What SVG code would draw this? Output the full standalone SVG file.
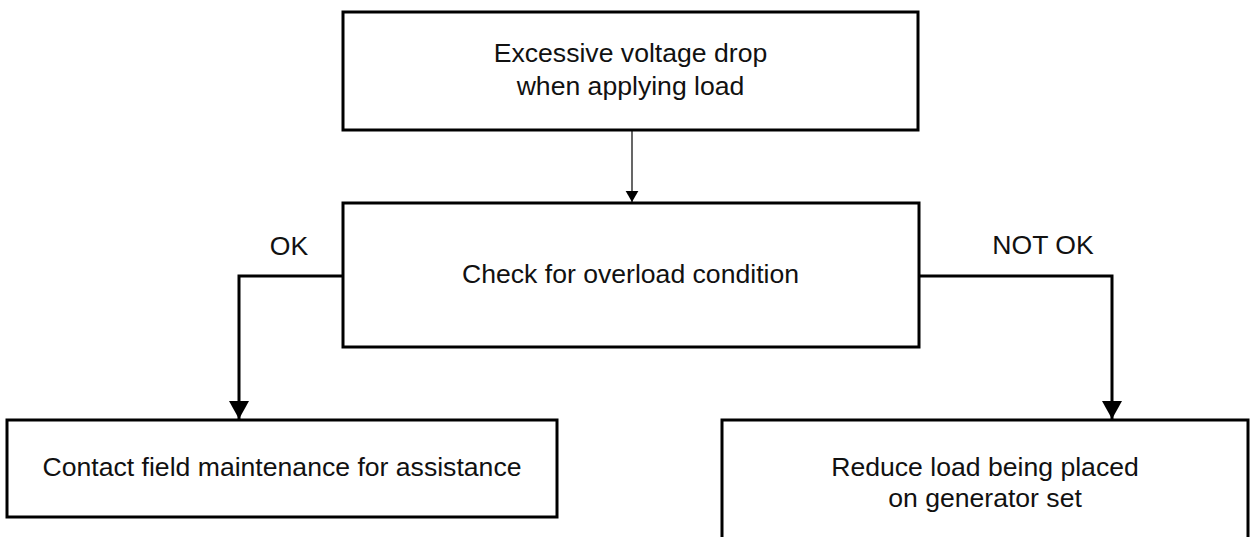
<svg xmlns="http://www.w3.org/2000/svg" width="1252" height="537" viewBox="0 0 1252 537">
<defs>
<style>
.box{fill:#fff;stroke:#000;stroke-width:3}
.t{font-family:"Liberation Sans",Arial,sans-serif;font-size:26.6px;fill:#111;text-anchor:middle}
.thin{fill:none;stroke:#000;stroke-width:1.2}
.thick{fill:none;stroke:#000;stroke-width:3}
</style>
<marker id="aS" viewBox="0 0 15 13" refX="13" refY="7.5" markerWidth="13" markerHeight="15" markerUnits="userSpaceOnUse" orient="auto">
<path d="M0,0 L13,7.5 L0,15 Z" fill="#000"/>
</marker>
<marker id="aL" viewBox="0 0 18 20" refX="18" refY="10" markerWidth="18" markerHeight="20" markerUnits="userSpaceOnUse" orient="auto">
<path d="M0,0 L18,10 L0,20 Z" fill="#000"/>
</marker>
</defs>
<rect width="1252" height="537" fill="#fff"/>
<g id="connectors">
<line class="thin" x1="632" y1="130" x2="632" y2="202" marker-end="url(#aS)"/>
<polyline class="thick" points="343,276 239,276 239,419" marker-end="url(#aL)"/>
<polyline class="thick" points="919,276 1112,276 1112,419" marker-end="url(#aL)"/>
<text class="t" x="289" y="255">OK</text>
<text class="t" x="1043" y="254">NOT OK</text>
</g>
<g id="n1">
<rect class="box" x="343" y="12" width="575" height="118"/>
<text class="t" x="630.5" y="62">Excessive voltage drop</text>
<text class="t" x="630.5" y="95">when applying load</text>
</g>
<g id="n2">
<rect class="box" x="343" y="203" width="576" height="144"/>
<text class="t" x="630.5" y="283">Check for overload condition</text>
</g>
<g id="n3">
<rect class="box" x="7" y="420" width="550" height="97"/>
<text class="t" x="282" y="476">Contact field maintenance for assistance</text>
</g>
<g id="n4">
<rect class="box" x="722" y="420" width="526" height="130"/>
<text class="t" x="985" y="476">Reduce load being placed</text>
<text class="t" x="985" y="507">on generator set</text>
</g>
</svg>
